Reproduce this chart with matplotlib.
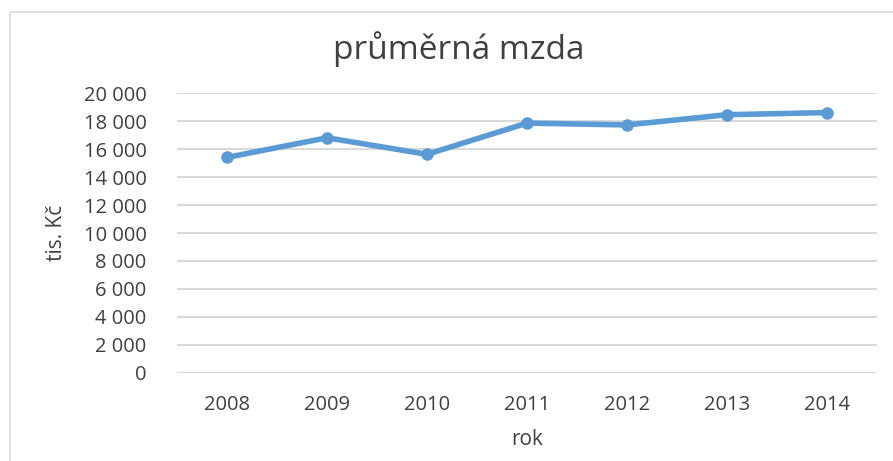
import matplotlib.pyplot as plt
from matplotlib.patches import Rectangle
from matplotlib.ticker import FuncFormatter

# data
roky = ['2008', '2009', '2010', '2011', '2012', '2013', '2014']
mzda = [15400, 16800, 15620, 17850, 17720, 18450, 18600]
y_ticks = list(range(0, 20001, 2000))

plt.rcParams['font.family'] = ['Open Sans', 'DejaVu Sans']
text_col = '#404040'

fig = plt.figure(figsize=(8.93, 4.61), dpi=100)
ax = fig.add_axes([177/893, 1-373/461, 700/893, 280/461])

# outer chart border
fig.patches.append(Rectangle((10/893, -0.05), 1.05, 1-12/461+0.05,
                             transform=fig.transFigure, fill=False,
                             edgecolor='#d9d9d9', linewidth=1.2))

x = range(len(roky))
ax.plot(x, mzda, color='#5b9bd5', linewidth=4, marker='o', markersize=8,
        solid_capstyle='round', zorder=3)

ax.set_xlim(-0.5, len(roky) - 0.5)
ax.set_ylim(0, 20000)
ax.set_yticks(y_ticks)
ax.yaxis.set_major_formatter(FuncFormatter(lambda v, p: f'{int(v):,}'.replace(',', ' ')))
ax.set_xticks(list(x))
ax.set_xticklabels(roky)
ax.grid(axis='y', color='#d9d9d9', linewidth=1.5)
ax.set_axisbelow(True)
for s in ax.spines.values():
    s.set_visible(False)
ax.tick_params(length=0, labelsize=14.5, colors=text_col, pad=22)
ax.tick_params(axis='x', pad=16)

ax.set_xlabel('rok', fontsize=15, color=text_col, labelpad=10)
ax.set_ylabel('tis. Kč', fontsize=15, color=text_col, labelpad=12)
fig.text(459/893, 1-49/461, 'průměrná mzda', ha='center', va='center',
         fontsize=24, color=text_col)

fig.savefig('out.png', dpi=100)
